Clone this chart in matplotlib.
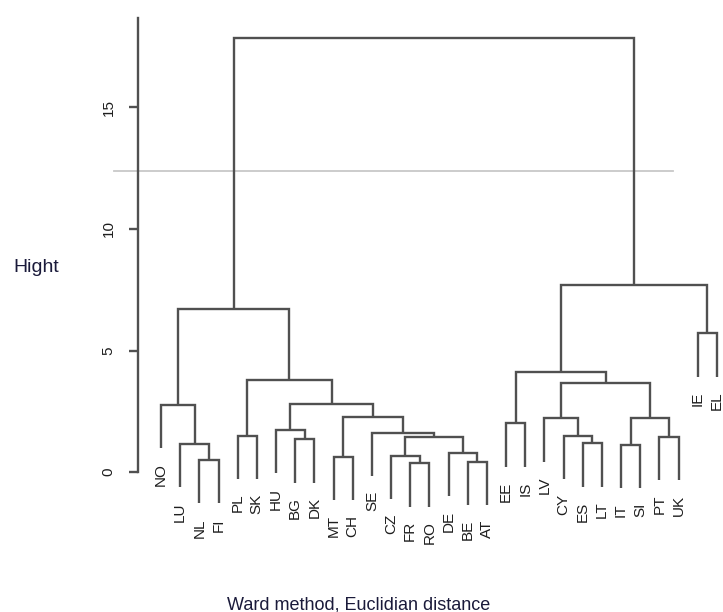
import matplotlib
matplotlib.use("Agg")
import matplotlib.pyplot as plt

# ---- data ----
labels = ["NO", "LU", "NL", "FI", "PL", "SK", "HU", "BG", "DK", "MT", "CH", "SE",
          "CZ", "FR", "RO", "DE", "BE", "AT", "EE", "IS", "LV", "CY", "ES", "LT",
          "IT", "SI", "PT", "UK", "IE", "EL"]

# merges: (left child, right child, height); children are leaf labels or merge ids "m<k>"
merge_left = ["NL", "LU", "NO", "PL", "BG", "HU", "MT", "FR", "CZ", "BE", "DE", "m8",
              "SE", "m6", "m5", "m3", "m2", "EE", "ES", "CY", "LV", "IT", "PT", "m21",
              "m20", "m17", "IE", "m25", "m16"]
merge_right = ["FI", "m0", "m1", "SK", "DK", "m4", "CH", "RO", "m7", "AT", "m9", "m10",
               "m11", "m12", "m13", "m14", "m15", "IS", "LT", "m18", "m19", "SI", "UK", "m22",
               "m23", "m24", "EL", "m26", "m27"]
merge_height = [0.49, 1.15, 2.76, 1.50, 1.35, 1.73, 0.63, 0.36, 0.67, 0.42, 0.79, 1.45,
                1.60, 2.28, 2.78, 3.79, 6.71, 2.00, 1.18, 1.49, 2.21, 1.11, 1.45, 2.21,
                3.68, 4.13, 5.70, 7.69, 17.85]

yticks = [0, 5, 10, 15]
cut_height = 12.4
axis_top = 18.68

# ---- figure ----
W, H = 723, 612
fig = plt.figure(figsize=(W / 100, H / 100), dpi=100)
plt.rcParams['font.family'] = ['Liberation Sans', 'DejaVu Sans']

left_px, leaf1_px, step_px = 137.7, 161.0, 19.17
zero_px, unit_px = 472.0, 24.3
ax = fig.add_axes([left_px / W, 0, 1 - left_px / W, 1])
ax.set_xlim(1 - (leaf1_px - left_px) / step_px, 1 + (W - leaf1_px) / step_px)
ax.set_ylim((zero_px - H) / unit_px, zero_px / unit_px)

line_col = "#505050"
lw = 1.7
hang = 0.1 * max(merge_height)

xpos = {lab: i + 1 for i, lab in enumerate(labels)}
ypos = {}
parent_h = {}
for k, (l, r, h) in enumerate(zip(merge_left, merge_right, merge_height)):
    parent_h[l] = h
    parent_h[r] = h
    xpos["m%d" % k] = (xpos[l] + xpos[r]) / 2
    ypos["m%d" % k] = h

for lab in labels:
    ypos[lab] = parent_h[lab] - hang

for k, (l, r, h) in enumerate(zip(merge_left, merge_right, merge_height)):
    ax.plot([xpos[l], xpos[l], xpos[r], xpos[r]], [ypos[l], h, h, ypos[r]],
            color=line_col, lw=lw, solid_joinstyle='miter', solid_capstyle='butt')

for lab in labels:
    ax.annotate(lab, (xpos[lab], ypos[lab]), xytext=(0, -10.5), textcoords='offset points',
                rotation=90, ha='center', va='top', fontsize=11, color="#1e1e1e")

# cut line
ax.plot([-1.45, 27.71], [cut_height, cut_height], color="#c8c8c8", lw=1.3, zorder=0, clip_on=False)

# axis
for s in ["top", "right", "bottom"]:
    ax.spines[s].set_visible(False)
ax.spines["left"].set_bounds(0, axis_top)
ax.spines["left"].set_color(line_col)
ax.spines["left"].set_linewidth(lw)
ax.set_xticks([])
ax.set_yticks(yticks)
ax.set_yticklabels([str(t) for t in yticks], rotation=90, va='center', fontsize=11, color="#1e1e1e")
ax.tick_params(axis='y', length=6.8, width=lw, color=line_col, pad=9)

fig.text(13 / W, 1 - 272 / H, "Hight", fontsize=14, ha='left', va='baseline', color="#1a1a3a")
fig.text(227 / W, 1 - 609 / H, "Ward method, Euclidian distance", fontsize=13,
         ha='left', va='baseline', color="#1a1a3a")

fig.savefig("out.png", dpi=100)
